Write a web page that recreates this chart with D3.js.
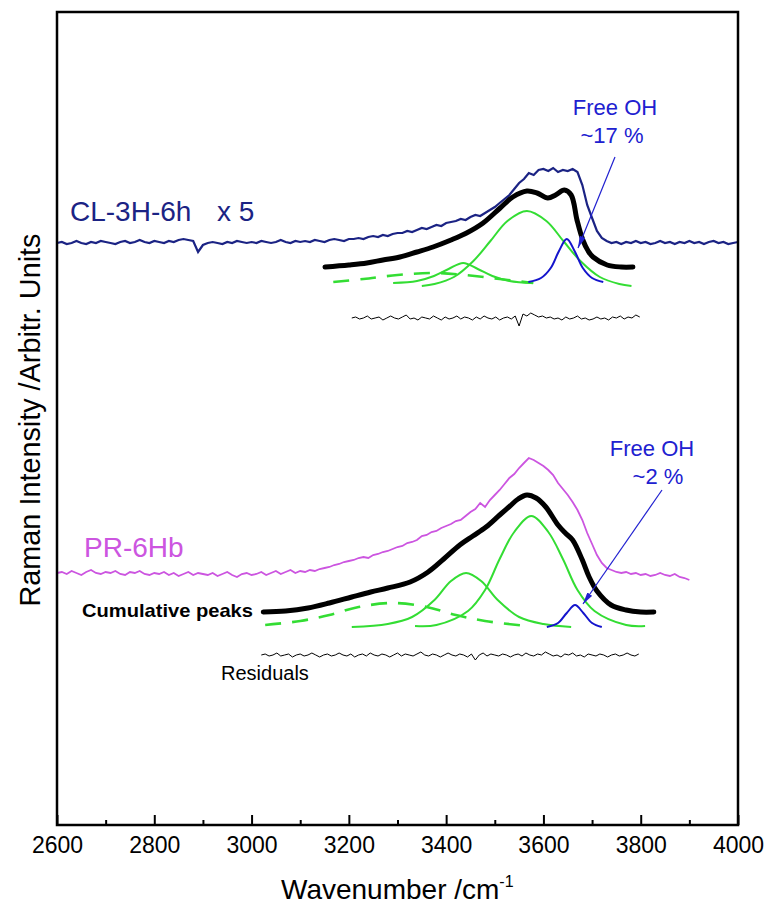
<!DOCTYPE html>
<html><head><meta charset="utf-8">
<script src="https://cdn.jsdelivr.net/npm/d3@7/dist/d3.min.js"></script>
<style>
html,body{margin:0;padding:0;background:#fff;}
text{font-family:"Liberation Sans",Arial,sans-serif;}
</style></head>
<body><svg id="chart" width="768" height="909"></svg>
<script>
// ---------- data (intensity in arbitrary units) ----------
const majorTicks = [2600,2800,3000,3200,3400,3600,3800,4000];
const minorTicks = [2700,2900,3100,3300,3500,3700,3900];

// CL-3H-6h x5 spectrum, 2600..4000 every 10 cm-1
const clWave = d3.range(2600, 4001, 10);
const clValues = [
582,583,581,582,584,582,581,583,582,584,583,
582,581,583,584,582,583,585,583,582,584,
583,582,584,583,585,586,585,584,573,580,
582,583,582,581,583,582,584,583,582,583,
582,584,583,582,583,585,583,582,584,583,
584,583,585,584,583,585,586,585,584,586,
586,587,586,588,589,588,590,589,591,592,
592,594,593,595,597,596,598,600,599,602,
603,604,606,605,608,610,609,612,615,618,
622,626,630,636,642,646,652,650,655,656,
654,657,653,655,654,656,653,640,620,607,
594,587,584,582,583,581,583,582,584,582,
583,581,582,584,582,583,581,583,582,584,
582,583,581,583,584,582,583,581,582,583];

// PR-6Hb spectrum, 2600..3900 every 10 cm-1
const prWave = d3.range(2600, 3901, 10);
const prValues = [
252,253,251,254,252,250,253,255,252,251,253,
252,254,251,250,253,252,254,251,250,252,
251,253,250,252,249,251,253,250,252,251,
250,252,249,251,253,250,248,251,252,250,
251,253,250,252,254,251,253,255,252,254,
253,255,254,256,257,258,260,261,263,264,
265,267,268,267,270,271,273,274,276,278,
279,282,283,285,289,290,293,294,297,299,
301,304,305,309,313,316,322,318,325,330,
335,341,347,351,357,362,367,365,362,359,
355,350,342,336,330,323,315,305,292,281,
270,262,257,255,253,252,253,251,252,250,
251,249,250,252,250,249,251,248,247,245];

// fitted components, CL-3H-6h
const clCumulative = [[3151,558],[3200,560],[3237,562],[3270,565],[3305,568],[3340,573],[3373,578],[3410,585],[3442,592],[3476,602],[3511,617],[3537,628],[3566,634],[3587,632],[3609,627],[3625,630],[3643,635],[3657,630],[3669,605],[3681,585],[3692,574],[3702,568],[3731,560],[3760,558],[3784,558]];
const clMain  = [[3350,539],[3376,541],[3416,548],[3456,564],[3491,584],[3526,604],[3566,614],[3606,604],[3641,584],[3676,564],[3716,548],[3756,541],[3781,539]];
const clSmall = [[3291,542],[3340,544],[3375,549],[3405,556],[3435,562],[3465,556],[3495,549],[3530,544],[3579,542]];
const clDashed = [[3168,543],[3230,546],[3300,550],[3373,552],[3440,550],[3510,546],[3579,542]];
const clFree  = [[3569,543],[3595,547],[3615,557],[3632,574],[3648,586],[3664,574],[3681,557],[3700,547],[3723,543]];
const clResWave = d3.range(3206, 3799, 8);
const clResidual = [
507,508,506,507,509,506,507,508,505,507,
509,507,506,508,510,506,507,505,508,507,
506,509,507,505,508,506,507,509,506,508,
507,505,508,506,509,507,506,508,505,507,
508,506,509,499,511,509,512,510,508,509,
507,508,506,507,505,508,506,507,509,506,
507,505,506,508,506,507,505,508,507,509,
506,508,507,510,508];

// fitted components, PR-6Hb
const prCumulative = [[3024,213],[3070,214],[3116,217],[3160,222],[3206,228],[3245,233],[3280,237],[3326,243],[3363,253],[3395,266],[3428,280],[3455,289],[3482,298],[3510,310],[3529,318],[3548,326],[3566,330],[3585,327],[3605,318],[3630,300],[3645,292],[3660,285],[3680,265],[3694,248],[3710,234],[3739,220],[3770,215],[3800,213],[3827,213]];
const prMain  = [[3336,199],[3380,200],[3445,214],[3480,235],[3510,266],[3540,293],[3575,309],[3610,293],[3640,266],[3670,235],[3705,214],[3770,200],[3809,199]];
const prSmall = [[3206,198],[3280,201],[3330,208],[3376,225],[3410,244],[3441,252],[3472,244],[3506,225],[3550,208],[3600,201],[3657,198]];
const prDashed = [[3028,200],[3100,204],[3160,210],[3220,218],[3291,222],[3360,218],[3420,210],[3480,204],[3566,199]];
const prFree  = [[3607,198],[3630,202],[3648,212],[3665,220],[3682,212],[3700,202],[3720,198]];
const prResWave = d3.range(3020, 3797, 8);
const prResidual = [
170,171,169,170,172,169,170,171,168,170,
171,169,170,172,170,168,170,171,169,170,
172,170,169,171,168,170,171,169,172,170,
169,171,170,168,170,172,169,171,170,169,
171,173,170,169,171,170,168,170,172,170,
169,171,170,168,171,165,170,172,169,171,
170,169,171,170,168,170,171,169,172,170,
169,171,170,173,171,169,170,168,171,170,
172,169,170,168,171,170,169,171,170,168,
170,171,169,170,172,170,169,171];

// ---------- drawing ----------
const L = 57, R = 738, T = 12, B = 825;
const svg = d3.select("#chart");
const x = d3.scaleLinear().domain([2600, 4000]).range([L, R]);
const y = d3.scaleLinear().domain([0, 813]).range([B, T]);

const C = {navy:"#1b2384", magenta:"#cc55e0", green:"#33dd33", blue:"#1414cc", black:"#000"};

const lineLin = d3.line().x(d => x(d[0])).y(d => y(d[1]));
const lineSmooth = d3.line().x(d => x(d[0])).y(d => y(d[1])).curve(d3.curveCatmullRom.alpha(0.5));
const zip = (w, v) => w.map((d, i) => [d, v[i]]).filter(d => d[1] !== undefined);

const g = svg.append("g");
// spectra
g.append("path").attr("d", lineLin(zip(clWave, clValues))).attr("fill","none").attr("stroke",C.navy).attr("stroke-width",2.2);
g.append("path").attr("d", lineLin(zip(prWave, prValues))).attr("fill","none").attr("stroke",C.magenta).attr("stroke-width",1.8);

function comps(cum, main, small, dashed, free, resW, res){
  g.append("path").attr("d", lineSmooth(dashed)).attr("fill","none").attr("stroke",C.green).attr("stroke-width",2.6).attr("stroke-dasharray","16,11");
  g.append("path").attr("d", lineSmooth(small)).attr("fill","none").attr("stroke",C.green).attr("stroke-width",2);
  g.append("path").attr("d", lineSmooth(main)).attr("fill","none").attr("stroke",C.green).attr("stroke-width",2);
  g.append("path").attr("d", lineSmooth(free)).attr("fill","none").attr("stroke",C.blue).attr("stroke-width",2);
  g.append("path").attr("d", lineSmooth(cum)).attr("fill","none").attr("stroke",C.black).attr("stroke-width",5).attr("stroke-linecap","round");
  g.append("path").attr("d", lineLin(zip(resW, res))).attr("fill","none").attr("stroke",C.black).attr("stroke-width",1);
}
comps(clCumulative, clMain, clSmall, clDashed, clFree, clResWave, clResidual);
comps(prCumulative, prMain, prSmall, prDashed, prFree, prResWave, prResidual);

// frame
svg.append("rect").attr("x",L).attr("y",T).attr("width",R-L).attr("height",B-T)
  .attr("fill","none").attr("stroke","#000").attr("stroke-width",2.5);

// bottom axis
const ax = svg.append("g").attr("transform",`translate(0,${B})`)
  .call(d3.axisBottom(x).tickValues(majorTicks).tickSizeInner(-10).tickSizeOuter(0).tickPadding(12).tickFormat(d3.format("d")));
ax.select(".domain").remove();
ax.selectAll(".tick line").attr("stroke","#000").attr("stroke-width",2);
ax.selectAll(".tick text").attr("font-size",23).attr("fill","#000").attr("font-family","Liberation Sans, Arial");
const axm = svg.append("g").attr("transform",`translate(0,${B})`)
  .call(d3.axisBottom(x).tickValues(minorTicks).tickSizeInner(-5).tickSizeOuter(0).tickFormat(""));
axm.select(".domain").remove();
axm.selectAll(".tick line").attr("stroke","#000").attr("stroke-width",2);

// axis titles
const xt = svg.append("text").attr("x",281).attr("y",899).attr("font-size",28).attr("fill","#000");
xt.append("tspan").text("Wavenumber /cm");
xt.append("tspan").attr("dy",-12).attr("font-size",16).text("-1");
svg.append("text").attr("transform","translate(40,420) rotate(-90)").attr("text-anchor","middle")
  .attr("font-size",28.8).attr("fill","#000").text("Raman Intensity /Arbitr. Units");

// labels
svg.append("text").attr("x",70).attr("y",221).attr("font-size",28).attr("fill",C.navy).text("CL-3H-6h");
svg.append("text").attr("x",217).attr("y",221).attr("font-size",28).attr("fill",C.navy).text("x 5");
svg.append("text").attr("x",84).attr("y",557).attr("font-size",28).attr("fill",C.magenta).text("PR-6Hb");
svg.append("text").attr("x",82).attr("y",617).attr("font-size",19).attr("font-weight","bold").attr("fill","#000")
  .attr("textLength",171).attr("lengthAdjust","spacingAndGlyphs").text("Cumulative peaks");
svg.append("text").attr("x",221).attr("y",680).attr("font-size",20).attr("fill","#000").text("Residuals");

const ohColor = "#2020d0";
svg.append("text").attr("x",615).attr("y",115).attr("text-anchor","middle").attr("font-size",22).attr("fill",ohColor).text("Free OH");
svg.append("text").attr("x",612).attr("y",143).attr("text-anchor","middle").attr("font-size",22).attr("fill",ohColor).text("~17 %");
svg.append("text").attr("x",652).attr("y",456).attr("text-anchor","middle").attr("font-size",22).attr("fill",ohColor).text("Free OH");
svg.append("text").attr("x",658).attr("y",484).attr("text-anchor","middle").attr("font-size",22).attr("fill",ohColor).text("~2 %");

// arrows
const defs = svg.append("defs");
defs.append("marker").attr("id","ah").attr("viewBox","0 0 12 6").attr("refX",12).attr("refY",3)
  .attr("markerWidth",12).attr("markerHeight",6).attr("markerUnits","userSpaceOnUse").attr("orient","auto")
  .append("path").attr("d","M0,0 L12,3 L0,6 Z").attr("fill",ohColor);
svg.append("line").attr("x1",615).attr("y1",157).attr("x2",578).attr("y2",248)
  .attr("stroke",ohColor).attr("stroke-width",1.2).attr("marker-end","url(#ah)");
svg.append("line").attr("x1",662).attr("y1",490).attr("x2",583).attr("y2",604)
  .attr("stroke",ohColor).attr("stroke-width",1.2).attr("marker-end","url(#ah)");
</script></body></html>
